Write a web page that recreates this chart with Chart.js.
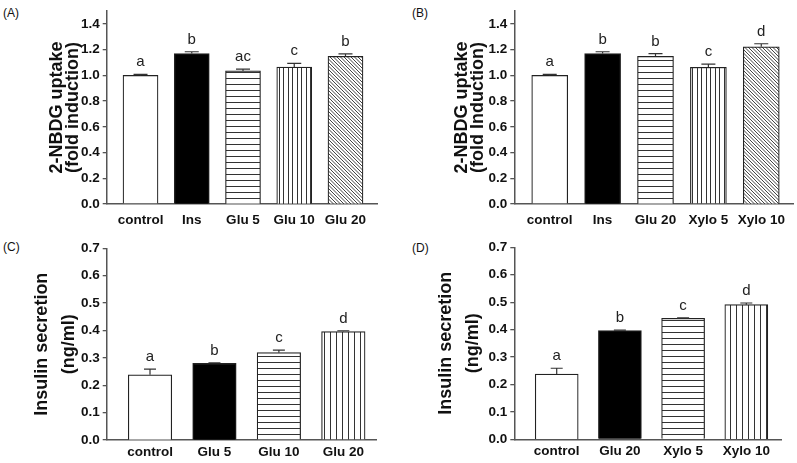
<!DOCTYPE html>
<html>
<head>
<meta charset="utf-8">
<script src="https://cdn.jsdelivr.net/npm/chart.js@4"></script>
<style>
  body { margin: 0; background: #fff; width: 797px; height: 463px; position: relative; overflow: hidden;
         font-family: "Liberation Sans", Arial, sans-serif; }
  canvas { position: absolute; }
  .tag { position: absolute; font-size: 12px; color: #111; line-height: 14px; }
</style>
</head>
<body>
<div class="tag" style="left:3px;top:6px">(A)</div>
<div class="tag" style="left:412px;top:6px">(B)</div>
<div class="tag" style="left:3px;top:240px">(C)</div>
<div class="tag" style="left:412px;top:241px">(D)</div>
<canvas id="chartA" width="398" height="230" style="left:0;top:0"></canvas>
<canvas id="chartB" width="397" height="230" style="left:400px;top:0"></canvas>
<canvas id="chartC" width="400" height="233" style="left:0;top:230px"></canvas>
<canvas id="chartD" width="397" height="233" style="left:400px;top:230px"></canvas>
<script>
const FONT = '"Liberation Sans", Arial, sans-serif';

// (A) 2-NBDG uptake, glucosamine
const catsA = ['control', 'Ins', 'Glu 5', 'Glu 10', 'Glu 20'];
const uptakeA = [1.00, 1.17, 1.035, 1.065, 1.148];
const semA = [0.008, 0.014, 0.014, 0.028, 0.02];
const lettersA = ['a', 'b', 'ac', 'c', 'b'];

// (B) 2-NBDG uptake, xylo
const catsB = ['control', 'Ins', 'Glu 20', 'Xylo 5', 'Xylo 10'];
const uptakeB = [1.00, 1.17, 1.148, 1.063, 1.222];
const semB = [0.008, 0.014, 0.022, 0.024, 0.024];
const lettersB = ['a', 'b', 'b', 'c', 'd'];

// (C) insulin secretion, glucosamine
const catsC = ['control', 'Glu 5', 'Glu 10', 'Glu 20'];
const insulinC = [0.238, 0.28, 0.319, 0.396];
const semC = [0.021, 0.002, 0.009, 0.003];
const lettersC = ['a', 'b', 'c', 'd'];

// (D) insulin secretion, xylo
const catsD = ['control', 'Glu 20', 'Xylo 5', 'Xylo 10'];
const insulinD = [0.238, 0.396, 0.441, 0.491];
const semD = [0.021, 0.002, 0.002, 0.006];
const lettersD = ['a', 'b', 'c', 'd'];

const ticksUptake = [0, 0.2, 0.4, 0.6, 0.8, 1.0, 1.2, 1.4];
const ticksInsulin = [0, 0.1, 0.2, 0.3, 0.4, 0.5, 0.6, 0.7];

// fill patterns (white, solid, horizontal, vertical, diagonal)
function tile(w, h, draw) {
    const c = document.createElement('canvas');
    c.width = w; c.height = h;
    const g = c.getContext('2d');
    g.fillStyle = '#fff';
    g.fillRect(0, 0, w, h);
    draw(g);
    return g.createPattern(c, 'repeat');
}
const hLines = tile(8, 6, g => { g.fillStyle = '#333'; g.fillRect(0, 0, 8, 1); });
const vLinesFine = tile(9, 8, g => { g.fillStyle = '#333'; g.fillRect(0, 0, 1, 8); g.fillRect(4, 0, 1, 8); });
const vLines = tile(6, 8, g => { g.fillStyle = '#333'; g.fillRect(0, 0, 1, 8); });
const diag = tile(7, 7, g => {
    g.strokeStyle = '#444';
    g.lineWidth = 1;
    for (let x0 = -7; x0 <= 7; x0 += 3.5) {
        g.beginPath();
        g.moveTo(x0, 0);
        g.lineTo(x0 + 7, 7);
        g.stroke();
    }
});

// error bars (upper only) and significance letters
const errorBars = {
    id: 'errorBars',
    afterDatasetsDraw(chart, args, opts) {
        const ctx = chart.ctx;
        const y = chart.scales.y;
        const meta = chart.getDatasetMeta(0);
        const data = chart.data.datasets[0].data;
        ctx.save();
        ctx.strokeStyle = '#333';
        ctx.lineWidth = 1.2;
        ctx.fillStyle = '#222';
        ctx.font = '15px ' + FONT;
        ctx.textAlign = 'center';
        ctx.textBaseline = 'alphabetic';
        meta.data.forEach((bar, i) => {
            const yTop = y.getPixelForValue(data[i].y + opts.sem[i]);
            ctx.beginPath();
            ctx.moveTo(bar.x, bar.y);
            ctx.lineTo(bar.x, yTop);
            ctx.moveTo(bar.x - opts.cap / 2, yTop);
            ctx.lineTo(bar.x + opts.cap / 2, yTop);
            ctx.stroke();
            ctx.fillText(opts.letters[i], bar.x, yTop - 8);
        });
        ctx.restore();
    }
};

function panel(id, cats, vals, sem, letters, fills, yTicks, title, o) {
    const ctx = document.getElementById(id).getContext('2d');
    return new Chart(ctx, {
        type: 'bar',
        data: {
            datasets: [{
                data: vals.map((v, i) => ({ x: i, y: v })),
                backgroundColor: fills,
                borderColor: '#222',
                borderWidth: 1.2,
                barThickness: o.bar
            }]
        },
        options: {
            responsive: false,
            animation: false,
            devicePixelRatio: 1,
            layout: { padding: { left: o.padL, right: o.padR, top: o.padT, bottom: 0 } },
            plugins: {
                legend: { display: false },
                tooltip: { enabled: false },
                errorBars: { sem: sem, letters: letters, cap: o.cap }
            },
            scales: {
                x: {
                    type: 'linear',
                    offset: false,
                    min: o.xMin,
                    max: o.xMax,
                    grid: { display: false, drawTicks: false },
                    border: { color: '#555', width: 1.5 },
                    ticks: {
                        padding: o.xPad,
                        color: '#111',
                        font: { family: FONT, size: 13.5, weight: 'bold' },
                        callback: v => cats[v] ?? ''
                    },
                    afterBuildTicks: s => { s.ticks = cats.map((c, i) => ({ value: i })); },
                    afterFit: s => { s.height = o.xH; s.paddingLeft = 0; s.paddingRight = 0; }
                },
                y: {
                    min: 0,
                    max: o.yMax,
                    grid: { drawOnChartArea: false, drawTicks: true, tickLength: 4, color: '#555', lineWidth: 1.3 },
                    border: { color: '#555', width: 1.5 },
                    ticks: {
                        padding: 3,
                        color: '#111',
                        font: { family: FONT, size: 13.5, weight: 'bold' },
                        callback: v => v.toFixed(1)
                    },
                    title: {
                        display: true,
                        text: title,
                        color: '#111',
                        padding: 0,
                        font: { family: FONT, size: 18, weight: 'bold', lineHeight: o.lh + 'px' }
                    },
                    afterBuildTicks: s => { s.ticks = yTicks.map(v => ({ value: v })); },
                    afterFit: s => { s.width = o.yW; s.paddingTop = 0; s.paddingBottom = 0; }
                }
            }
        },
        plugins: [errorBars]
    });
}

panel('chartA', catsA, uptakeA, semA, lettersA, ['#fff', '#000', hLines, vLinesFine, diag],
    ticksUptake, ['2-NBDG uptake', '(fold induction)'],
    { padL: 49, yW: 57.7, padR: 21, padT: 11.1, xMin: -0.66, xMax: 4.615, yMax: 1.5,
      bar: 35, xH: 26, xPad: 8, lh: 16, cap: 14 });

panel('chartB', catsB, uptakeB, semB, lettersB, ['#fff', '#000', hLines, vLinesFine, diag],
    ticksUptake, ['2-NBDG uptake', '(fold Induction)'],
    { padL: 54, yW: 60.3, padR: 4, padT: 11.1, xMin: -0.67, xMax: 4.6, yMax: 1.5,
      bar: 36, xH: 26, xPad: 8, lh: 16, cap: 14 });

panel('chartC', catsC, insulinC, semC, lettersC, ['#fff', '#000', hLines, vLines],
    ticksInsulin, ['Insulin secretion', '(ng/ml)'],
    { padL: 28.5, yW: 78.2, padR: 23.3, padT: 18.3, xMin: -0.672, xMax: 3.518, yMax: 0.7,
      bar: 43.5, xH: 23, xPad: 4, lh: 27, cap: 12 });

panel('chartD', catsD, insulinD, semD, lettersD, ['#fff', '#000', hLines, vLines],
    ticksInsulin, ['Insulin secretion', '(ng/ml)'],
    { padL: 32.5, yW: 81.8, padR: 15.3, padT: 17.3, xMin: -0.671, xMax: 3.56, yMax: 0.7,
      bar: 43, xH: 23.7, xPad: 4, lh: 27, cap: 12 });
</script>
</body>
</html>
